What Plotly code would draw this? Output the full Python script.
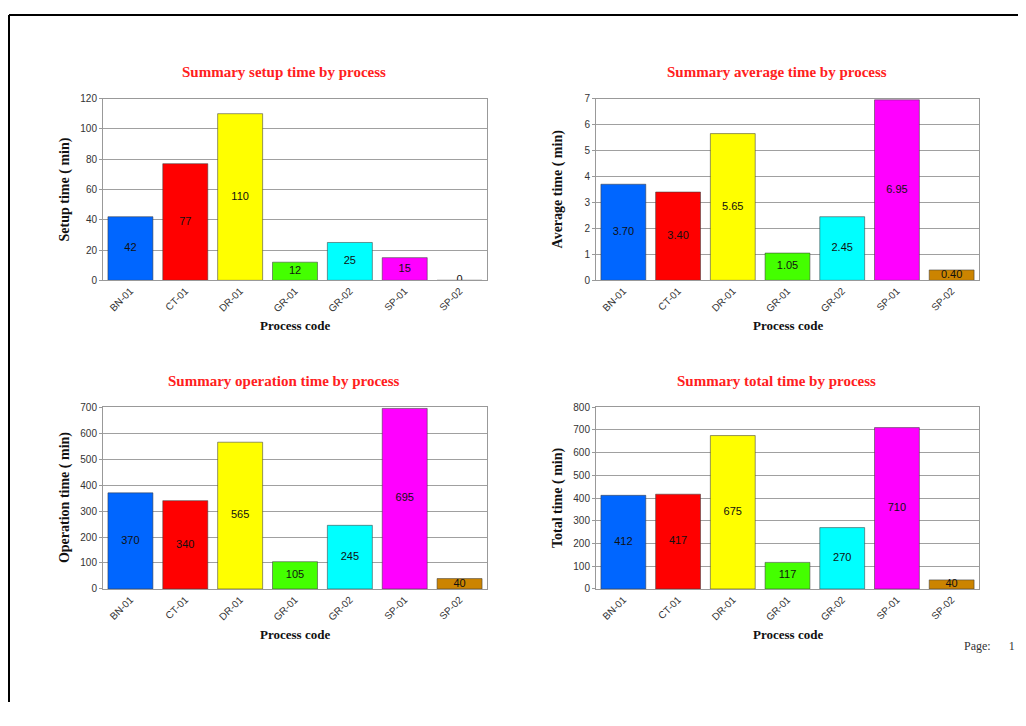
import plotly.graph_objects as go

# data
processes = ['BN-01', 'CT-01', 'DR-01', 'GR-01', 'GR-02', 'SP-01', 'SP-02']
setup_time = [42, 77, 110, 12, 25, 15, 0]
average_time = [3.70, 3.40, 5.65, 1.05, 2.45, 6.95, 0.40]
operation_time = [370, 340, 565, 105, 245, 695, 40]
total_time = [412, 417, 675, 117, 270, 710, 40]

bar_colors = ['#0066ff', '#ff0000', '#ffff00', '#44ff00', '#00ffff', '#ff00ff', '#cc8400']

# figure sits inside the page body margin, so page pixels are shifted by OX/OY
W, H = 1010, 700
OX, OY = 8, 8


def px_x(p):
    return (p - OX) / W


def px_y(p):
    return 1 - (p - OY) / H


charts = [
    dict(values=setup_time, fmt='{:.0f}', title='Summary setup time by process',
         ytitle='Setup time ( min)', ymax=120, dtick=20,
         box=(103, 487, 94, 279)),
    dict(values=average_time, fmt='{:.2f}', title='Summary average time by process',
         ytitle='Average time ( min)', ymax=7, dtick=1,
         box=(596, 979, 94, 279)),
    dict(values=operation_time, fmt='{:.0f}', title='Summary operation time by process',
         ytitle='Operation time ( min)', ymax=700, dtick=100,
         box=(103, 487, 408, 593)),
    dict(values=total_time, fmt='{:.0f}', title='Summary total time by process',
         ytitle='Total time ( min)', ymax=800, dtick=100,
         box=(596, 979, 408, 593)),
]

fig = go.Figure()
annotations = []
serif = 'Liberation Serif, Times New Roman, serif'
sans = 'Liberation Sans, Arial, sans-serif'

for i, c in enumerate(charts):
    n = '' if i == 0 else str(i + 1)
    xa, ya = 'x' + n, 'y' + n
    x0, x1, y0, y1 = c['box']

    fig.add_trace(go.Bar(
        x=processes, y=c['values'], xaxis=xa, yaxis=ya,
        marker=dict(color=bar_colors, line=dict(color='rgba(60,60,60,0.55)', width=1)),
        width=0.82, showlegend=False, hoverinfo='x+y'
    ))
    # value labels in the middle of each bar
    fig.add_trace(go.Scatter(
        x=processes, y=[v / 2 for v in c['values']], xaxis=xa, yaxis=ya,
        mode='text', text=[c['fmt'].format(v) for v in c['values']],
        textposition='middle center',
        textfont=dict(family=sans, size=11, color='#111'),
        showlegend=False, hoverinfo='skip'
    ))

    fig.update_layout({
        'xaxis' + n: dict(domain=[px_x(x0), px_x(x1)], anchor=ya,
                          tickangle=-45, tickfont=dict(family=sans, size=10, color='#333'),
                          showline=True, linecolor='#999', linewidth=1, mirror=True,
                          ticks='', showgrid=False, fixedrange=True),
        'yaxis' + n: dict(domain=[px_y(y1), px_y(y0)], anchor=xa,
                          range=[0, c['ymax']], dtick=c['dtick'],
                          tickfont=dict(family=sans, size=10, color='#333'),
                          showline=True, linecolor='#999', linewidth=1, mirror=True,
                          showgrid=True, gridcolor='#a0a0a0', gridwidth=1,
                          ticks='outside', ticklen=3, tickcolor='#999',
                          zeroline=False, fixedrange=True),
    })

    cx = (x0 + x1) / 2
    annotations.append(dict(
        text='<b>' + c['title'] + '</b>', x=px_x(cx - 11), y=px_y(y0 - 27),
        xref='paper', yref='paper', showarrow=False, xanchor='center', yanchor='middle',
        font=dict(family=serif, size=15, color='#ff2020')))
    annotations.append(dict(
        text='<b>Process code</b>', x=px_x(cx), y=px_y(y1 + 46),
        xref='paper', yref='paper', showarrow=False, xanchor='center', yanchor='middle',
        font=dict(family=serif, size=13, color='#111')))
    annotations.append(dict(
        text='<b>' + c['ytitle'] + '</b>', x=px_x(x0 - 38), y=px_y((y0 + y1) / 2),
        xref='paper', yref='paper', showarrow=False, textangle=-90,
        xanchor='center', yanchor='middle',
        font=dict(family=serif, size=14, color='#111')))

annotations.append(dict(
    text='Page:&nbsp;&nbsp;&nbsp;&nbsp;&nbsp;&nbsp;1', x=px_x(962), y=px_y(651),
    xref='paper', yref='paper', showarrow=False, xanchor='left', yanchor='middle',
    font=dict(family=serif, size=12, color='#333')))

# page border (top and left edges)
shapes = [
    dict(type='line', xref='paper', yref='paper', x0=px_x(9), x1=1, y0=px_y(9), y1=px_y(9),
         line=dict(color='#000', width=2)),
    dict(type='line', xref='paper', yref='paper', x0=px_x(9), x1=px_x(9), y0=0, y1=px_y(9),
         line=dict(color='#000', width=2)),
]

fig.update_layout(
    width=W, height=H,
    margin=dict(l=0, r=0, t=0, b=0),
    paper_bgcolor='white', plot_bgcolor='white',
    annotations=annotations, shapes=shapes,
    bargap=0.18, showlegend=False,
)

fig.write_html("out.html")
